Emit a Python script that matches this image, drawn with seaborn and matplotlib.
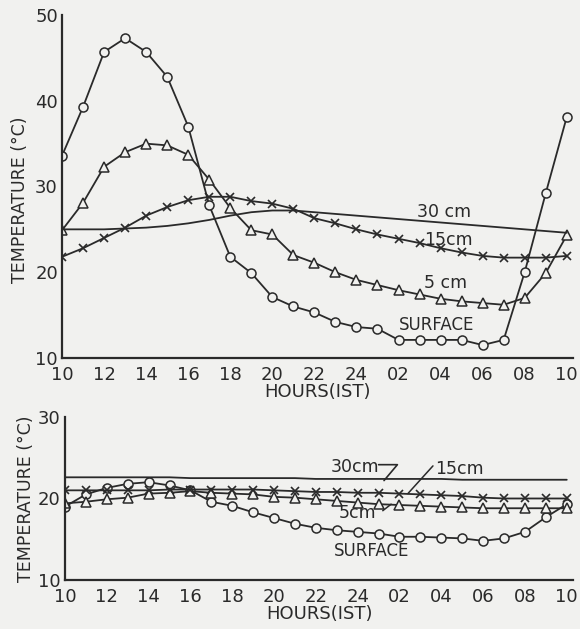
import seaborn as sns
import numpy as np
import matplotlib.pyplot as plt

# hours from 10 IST to 10 IST next day, one reading per hour
hours = list(range(25))
tick_pos = list(range(0, 25, 2))
tick_labels = ['10', '12', '14', '16', '18', '20', '22', '24',
               '02', '04', '06', '08', '10']

# top panel
top_surface = [33.6, 39.3, 45.7, 47.3, 45.7, 42.8, 37.0, 27.8, 21.8, 19.9, 17.1, 16.0,
               15.3, 14.2, 13.6, 13.4, 12.1, 12.1, 12.1, 12.1, 11.5, 12.1, 20.0, 29.2, 38.1]
top_5cm = [24.9, 28.1, 32.3, 34.0, 35.0, 34.8, 33.7, 30.8, 27.5, 24.9, 24.4, 22.0,
           21.1, 20.0, 19.1, 18.5, 17.9, 17.4, 16.9, 16.6, 16.4, 16.2, 17.0, 19.9, 24.3]
top_15cm = [21.8, 22.8, 24.0, 25.2, 26.6, 27.6, 28.4, 28.8, 28.8, 28.3, 28.0, 27.4,
            26.3, 25.7, 25.0, 24.4, 23.9, 23.4, 22.8, 22.3, 21.9, 21.7, 21.7, 21.7, 21.9]
top_30cm = [25.0, 25.0, 25.0, 25.1, 25.2, 25.4, 25.7, 26.1, 26.6, 27.0, 27.2, 27.2,
            27.0, 26.8, 26.6, 26.4, 26.2, 26.0, 25.8, 25.6, 25.4, 25.2, 25.0, 24.8, 24.6]

# bottom panel
bot_surface = [19.0, 20.5, 21.3, 21.8, 22.0, 21.6, 21.0, 19.6, 19.1, 18.3, 17.6, 16.9,
               16.4, 16.1, 15.9, 15.7, 15.3, 15.3, 15.2, 15.1, 14.8, 15.1, 15.9, 17.7, 19.3]
bot_5cm = [19.4, 19.6, 19.9, 20.1, 20.6, 20.7, 20.9, 20.7, 20.6, 20.5, 20.2, 20.1,
           19.9, 19.7, 19.5, 19.3, 19.2, 19.1, 19.0, 18.9, 18.8, 18.8, 18.8, 18.8, 18.8]
bot_15cm = [21.0, 21.0, 21.0, 21.0, 21.0, 21.1, 21.1, 21.1, 21.1, 21.1, 21.0, 20.9,
            20.8, 20.8, 20.7, 20.7, 20.6, 20.5, 20.4, 20.3, 20.1, 20.0, 20.0, 20.0, 20.0]
bot_30cm = [22.6, 22.6, 22.6, 22.6, 22.6, 22.6, 22.5, 22.5, 22.5, 22.5, 22.5, 22.5,
            22.4, 22.4, 22.4, 22.4, 22.4, 22.4, 22.4, 22.3, 22.3, 22.3, 22.3, 22.3, 22.3]

sns.set_style("white")
plt.rcParams['font.family'] = ['DejaVu Sans']
ink = '#2a2a2a'
bg = '#f1f1ef'

fig = plt.figure(figsize=(5.8, 6.29), dpi=100, facecolor=bg)
ax1 = fig.add_axes([0.107, 0.431, 0.881, 0.545])
ax2 = fig.add_axes([0.112, 0.078, 0.876, 0.259])

mk = dict(color=ink, linewidth=1.3, linestyle='-', markersize=6.5,
          markerfacecolor=bg, markeredgecolor=ink, markeredgewidth=1.1)


def draw(ax, surf, d5, d15, d30):
    sns.lineplot(x=hours, y=surf, ax=ax, marker='o', **mk)
    sns.lineplot(x=hours, y=d5, ax=ax, marker='^', **mk)
    sns.lineplot(x=hours, y=d15, ax=ax, marker='x', color=ink, linewidth=1.3,
                 linestyle='-', markersize=6, markeredgecolor=ink,
                 markeredgewidth=1.2)
    sns.lineplot(x=hours, y=d30, ax=ax, color=ink, linewidth=1.3, linestyle='-')
    ax.set_facecolor(bg)
    ax.set_xlim(0, 24.3)
    ax.set_xticks(tick_pos)
    ax.set_xticklabels(tick_labels)
    for s in ['top', 'right']:
        ax.spines[s].set_visible(False)
    for s in ['left', 'bottom']:
        ax.spines[s].set_color(ink)
        ax.spines[s].set_linewidth(1.6)
    ax.tick_params(direction='in', length=7, width=1.4, color=ink,
                   labelsize=13, labelcolor=ink)
    ax.tick_params(axis='x', pad=6)
    ax.tick_params(axis='y', pad=3)
    ax.set_xlabel('HOURS(IST)', fontsize=13, color=ink, labelpad=-1)
    ax.set_ylabel('TEMPERATURE (°C)', fontsize=12.5, color=ink, labelpad=2)


draw(ax1, top_surface, top_5cm, top_15cm, top_30cm)
ax1.set_ylim(10, 50)
ax1.set_yticks([10, 20, 30, 40, 50])
ax1.yaxis.set_label_coords(-0.064, 0.46)
ax1.text(16.9, 26.4, '30 cm', fontsize=12.5, color=ink)
ax1.text(17.2, 23.2, '15cm', fontsize=12.5, color=ink)
ax1.text(17.2, 18.1, '5 cm', fontsize=12.5, color=ink)
ax1.text(16.0, 13.2, 'SURFACE', fontsize=12, color=ink)

draw(ax2, bot_surface, bot_5cm, bot_15cm, bot_30cm)
ax2.set_ylim(10, 30)
ax2.set_yticks([10, 15, 20, 25, 30])
ax2.set_yticklabels(['10', '', '20', '', '30'])
ax2.xaxis.labelpad = -1
ax2.text(12.7, 23.2, '30cm', fontsize=12.5, color=ink)
ax2.plot([15.0, 15.9, 15.26], [24.15, 24.15, 22.2], color=ink, linewidth=1.2)
ax2.text(17.7, 23.0, '15cm', fontsize=12.5, color=ink)
ax2.plot([17.6, 16.4], [24.0, 20.6], color=ink, linewidth=1.1)
ax2.text(13.1, 17.6, '5cm', fontsize=12.5, color=ink)
ax2.plot([15.2, 15.6], [18.5, 19.3], color=ink, linewidth=1.1)
ax2.text(12.85, 13.0, 'SURFACE', fontsize=12, color=ink)

fig.savefig('out.png', dpi=100, facecolor=bg)
